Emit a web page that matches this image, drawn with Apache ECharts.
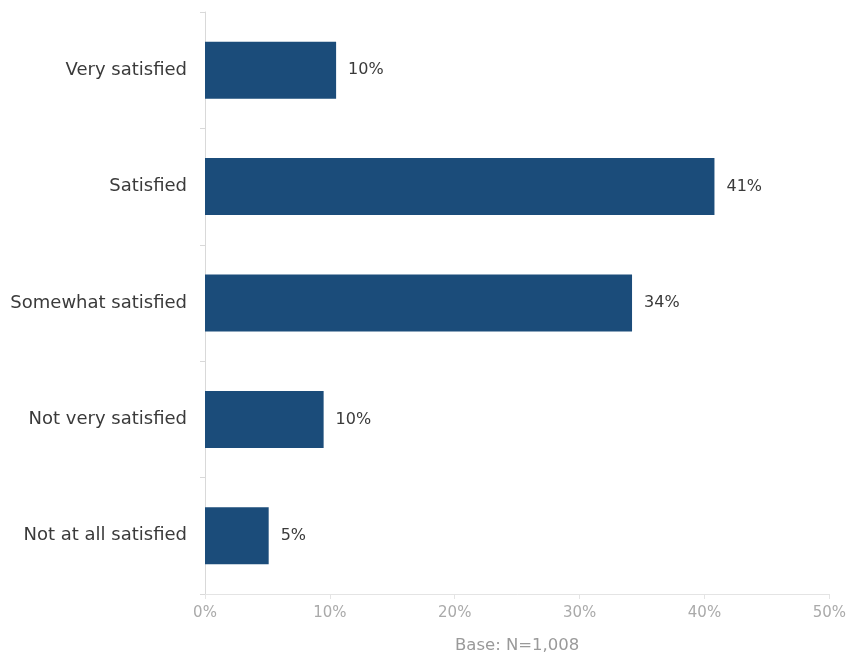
<!DOCTYPE html>
<html>
<head>
<meta charset="utf-8">
<script src="https://cdn.jsdelivr.net/npm/echarts@6/dist/echarts.min.js"></script>
<style>
html,body{margin:0;padding:0;background:#fff;}
#chart{width:849px;height:659px;}
</style>
</head>
<body>
<div id="chart"></div>
<script>
var categories = ["Very satisfied", "Satisfied", "Somewhat satisfied", "Not very satisfied", "Not at all satisfied"];
var values = [10.5, 40.8, 34.2, 9.5, 5.1];
var valueLabels = ["10%", "41%", "34%", "10%", "5%"];
var xTicks = [0, 10, 20, 30, 40, 50];
var baseText = "Base: N=1,008";

var chart = echarts.init(document.getElementById('chart'));
var font = "'DejaVu Sans', sans-serif";
chart.setOption({
  animation: false,
  grid: {left: 205, right: 19, top: 12, bottom: 61, containLabel: false},
  xAxis: {
    type: 'value', min: xTicks[0], max: xTicks[xTicks.length - 1], interval: 10,
    name: baseText, nameLocation: 'middle', nameGap: 43,
    nameTextStyle: {color: '#9a9a9a', fontSize: 16.5, fontFamily: font},
    axisLine: {show: true, lineStyle: {color: '#e4e4e4', width: 1}},
    axisTick: {show: true, length: 5, lineStyle: {color: '#e4e4e4'}},
    splitLine: {show: false},
    axisLabel: {color: '#aaaaaa', fontSize: 15, fontFamily: font, margin: 12, formatter: '{value}%'}
  },
  yAxis: {
    type: 'category', data: categories, inverse: true,
    axisLine: {show: true, lineStyle: {color: '#d9d9d9', width: 1}},
    axisTick: {show: true, length: 5, lineStyle: {color: '#d9d9d9'}},
    axisLabel: {color: '#3a3a3a', fontSize: 18, fontFamily: font, margin: 18}
  },
  series: [{
    type: 'bar', data: values, barCategoryGap: '51%',
    itemStyle: {color: '#1b4c7a'},
    label: {
      show: true, position: 'right', distance: 12,
      color: '#3a3a3a', fontSize: 16, fontFamily: font,
      formatter: function (p) { return valueLabels[p.dataIndex]; }
    }
  }]
});
</script>
</body>
</html>
